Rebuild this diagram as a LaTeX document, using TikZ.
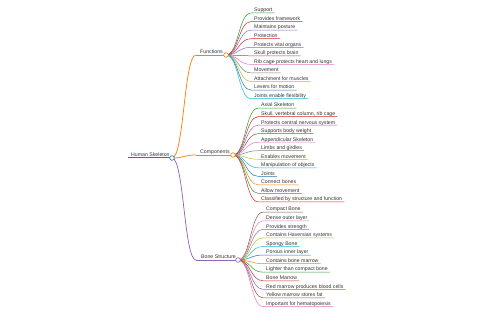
\documentclass[tikz,border=0pt]{standalone}
\usepackage{fontspec}
\setmainfont{Liberation Sans}
\usetikzlibrary{calc}
\definecolor{c0}{HTML}{1F77B4}
\definecolor{c1}{HTML}{FF7F0E}
\definecolor{c2}{HTML}{2CA02C}
\definecolor{c3}{HTML}{D62728}
\definecolor{c4}{HTML}{9467BD}
\definecolor{c5}{HTML}{8C564B}
\definecolor{c6}{HTML}{E377C2}
\definecolor{c7}{HTML}{7F7F7F}
\definecolor{c8}{HTML}{BCBD22}
\definecolor{c9}{HTML}{17BECF}
\definecolor{txtc}{HTML}{333333}
\newcommand\mmlink[3]{\draw[#1] let \p1=(#2), \p2=(#3) in (\p1) .. controls ({(\x1+\x2)/2},\y1) and ({(\x1+\x2)/2},\y2) .. (\p2);}
\begin{document}
\begin{tikzpicture}[x=1pt,y=-1pt,
  lbl/.style={font=\fontsize{5.2}{6}\selectfont, text=txtc, inner sep=0pt, anchor=base west},
  dotnode/.style={circle, draw, fill=white, inner sep=0pt, minimum size=4.6pt, line width=0.6pt},
  rootline/.style={line width=1pt},
  midline/.style={line width=0.75pt},
  leafline/.style={line width=0.5pt}]
\useasboundingbox (0,0) rectangle (480,320);
% root
\coordinate (rs) at (128,158);
\coordinate (rc) at (172,158);
\node[lbl] (rt) at (131,156.8) {Human Skeleton};
% level 1 anchors
\coordinate (fs) at (196,55);
\coordinate (fc) at (226,55);
\coordinate (cs) at (196,155);
\coordinate (cc) at (233,155);
\coordinate (bs) at (196,260);
\coordinate (bc) at (238,260);
\node[lbl] (fn) at (200,53.8) {Functions};
\node[lbl] (cn) at (200,153.8) {Components};
\node[lbl] (bn) at (201,258.8) {Bone Structure};
% links root -> level 1
\mmlink{c1,midline}{rc}{fs}
\mmlink{c1,midline}{rc}{cs}
\mmlink{c4,midline}{rc}{bs}
\draw[c1,midline] (fs) -- (fc);
\draw[c1,midline] (cs) -- (cc);
\draw[c4,midline] (bs) -- (bc);
\draw[c0,rootline] (rs) -- (rc);
% Functions leaves
\foreach \t/\c [count=\i from 0] in {Support/c2, Provides framework/c3, Maintains posture/c4, Protection/c3, Protects vital organs/c4, Skull protects brain/c5, Rib cage protects heart and lungs/c6, Movement/c7, Attachment for muscles/c8, Levers for motion/c0, Joints enable flexibility/c9}{
  \pgfmathsetmacro\yy{13+\i*8.57}
  \coordinate (f\i) at (251,\yy);
  \node[lbl] (ft\i) at (254,\yy-1.2) {\t};
  \draw[\c,leafline] let \p1=(fc), \p2=(f\i) in (\p1) .. controls ({(\x1+\x2)/2},\y1) and ({(\x1+\x2)/2},\y2) .. (\p2) -- ($(ft\i.east |- f\i)+(2,0)$);
}
% Components leaves
\foreach \t/\c [count=\i from 0] in {Axial Skeleton/c2, {Skull, vertebral column, rib cage}/c3, Protects central nervous system/c4, Supports body weight/c5, Appendicular Skeleton/c6, Limbs and girdles/c7, Enables movement/c8, Manipulation of objects/c9, Joints/c0, Connect bones/c1, Allow movement/c2, Classified by structure and function/c3}{
  \pgfmathsetmacro\yy{108.2+\i*8.51}
  \coordinate (k\i) at (258,\yy);
  \node[lbl] (kt\i) at (261,\yy-1.2) {\t};
  \draw[\c,leafline] let \p1=(cc), \p2=(k\i) in (\p1) .. controls ({(\x1+\x2)/2},\y1) and ({(\x1+\x2)/2},\y2) .. (\p2) -- ($(kt\i.east |- k\i)+(2,0)$);
}
% Bone Structure leaves
\foreach \t/\c [count=\i from 0] in {Compact Bone/c5, Dense outer layer/c6, Provides strength/c7, Contains Haversian systems/c8, Spongy Bone/c9, Porous inner layer/c0, Contains bone marrow/c1, Lighter than compact bone/c2, Bone Marrow/c3, Red marrow produces blood cells/c4, Yellow marrow stores fat/c5, Important for hematopoiesis/c6}{
  \pgfmathsetmacro\yy{212.2+\i*8.57}
  \coordinate (b\i) at (263,\yy);
  \node[lbl] (bt\i) at (266,\yy-1.2) {\t};
  \draw[\c,leafline] let \p1=(bc), \p2=(b\i) in (\p1) .. controls ({(\x1+\x2)/2},\y1) and ({(\x1+\x2)/2},\y2) .. (\p2) -- ($(bt\i.east |- b\i)+(2,0)$);
}
% circles on top
\node[dotnode, draw=c0] (rcd) at (rc) {};
\node[dotnode, draw=c1] (fcd) at (fc) {};
\node[dotnode, draw=c1] (ccd) at (cc) {};
\node[dotnode, draw=c4] (bcd) at (bc) {};
\end{tikzpicture}
\end{document}
